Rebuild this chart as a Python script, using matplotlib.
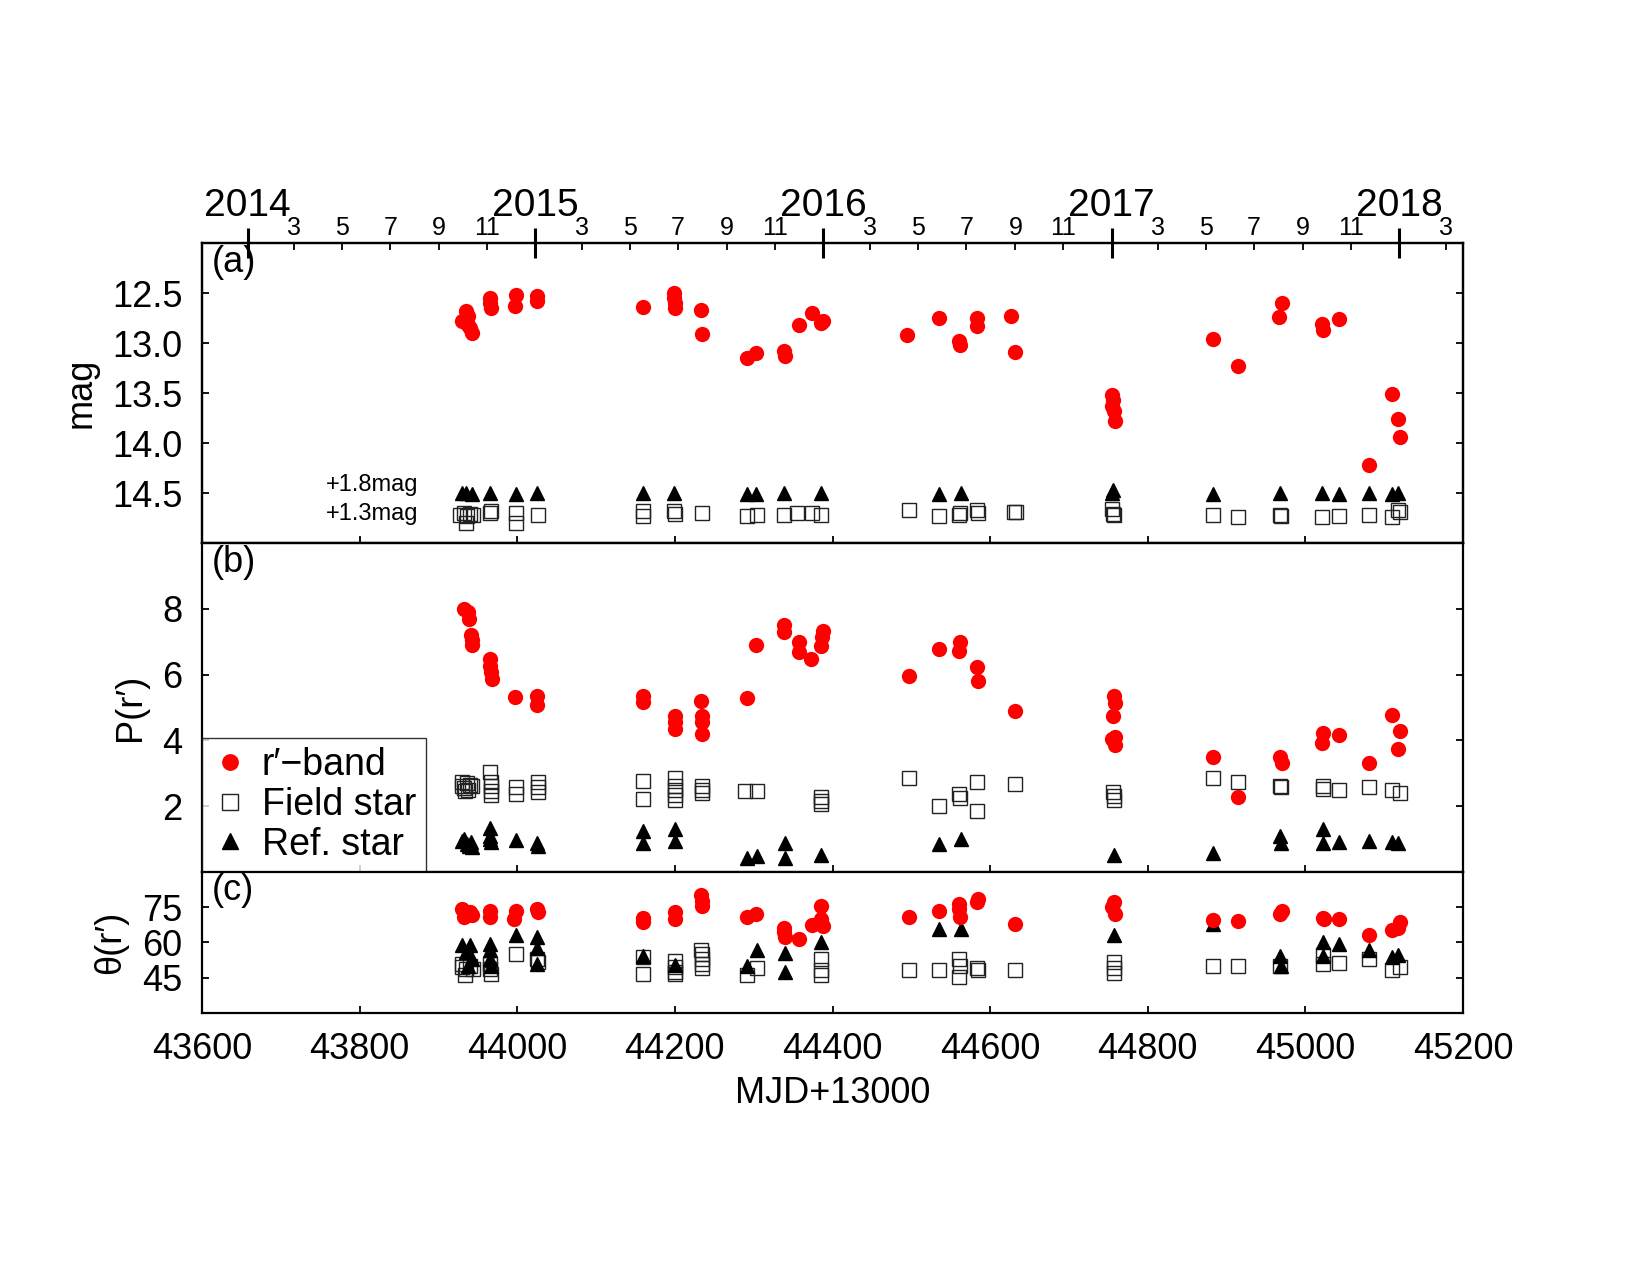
import matplotlib
matplotlib.use('Agg')
import matplotlib.pyplot as plt
from datetime import datetime

plt.rcParams['font.family'] = ['Liberation Sans', 'DejaVu Sans']

# ---- panel (a): magnitudes ----
a_r_t = [43930, 43935, 43937, 43940, 43942, 43938, 43966, 43967, 43966, 43999, 43997, 44025, 44025,
         44160, 44199, 44199, 44200, 44200, 44233, 44234, 44291, 44303, 44338, 44340, 44357, 44374,
         44386, 44388, 44495, 44535, 44561, 44562, 44583, 44583, 44627, 44632, 44755, 44756, 44754,
         44757, 44758, 44883, 44914, 44970, 44967, 45021, 45022, 45043, 45081, 45110, 45117, 45120]
a_r_v = [12.78, 12.68, 12.73, 12.85, 12.90, 12.82, 12.55, 12.65, 12.60, 12.52, 12.63, 12.53, 12.58,
         12.64, 12.50, 12.55, 12.60, 12.65, 12.67, 12.91, 13.15, 13.10, 13.08, 13.13, 12.82, 12.70,
         12.80, 12.78, 12.92, 12.75, 12.98, 13.02, 12.75, 12.83, 12.73, 13.09, 13.52, 13.57, 13.63,
         13.68, 13.78, 12.96, 13.23, 12.60, 12.74, 12.81, 12.87, 12.76, 14.22, 13.51, 13.76, 13.94]

a_ref_t = [43930, 43935, 43942, 43966, 43999, 44025, 44160, 44199, 44291, 44303, 44339, 44386,
           44535, 44563, 44755, 44756, 44883, 44968, 45021, 45043, 45081, 45110, 45118]
a_ref_v = [12.70, 12.70, 12.71, 12.70, 12.71, 12.70, 12.70, 12.70, 12.71, 12.71, 12.70, 12.70,
           12.71, 12.70, 12.70, 12.67, 12.71, 12.70, 12.70, 12.71, 12.70, 12.71, 12.70]
ref_offset = 1.8

a_field_t = [43928, 43932, 43936, 43940, 43944, 43935, 43966, 43967, 43998, 43998, 44026, 44160,
             44160, 44199, 44200, 44234, 44291, 44304, 44338, 44355, 44374, 44386, 44497, 44535,
             44561, 44562, 44583, 44584, 44630, 44633, 44755, 44756, 44757, 44883, 44914, 44968,
             44969, 45021, 45043, 45081, 45110, 45120, 45118]
a_field_v = [13.42, 13.40, 13.43, 13.41, 13.42, 13.50, 13.40, 13.38, 13.40, 13.50, 13.42, 13.38,
             13.43, 13.38, 13.41, 13.40, 13.43, 13.42, 13.42, 13.40, 13.40, 13.42, 13.37, 13.43,
             13.42, 13.40, 13.37, 13.40, 13.39, 13.39, 13.36, 13.41, 13.42, 13.42, 13.44, 13.42,
             13.43, 13.44, 13.43, 13.42, 13.44, 13.39, 13.37]
field_offset = 1.3

# ---- panel (b): polarization degree ----
b_r_t = [43932, 43937, 43939, 43941, 43942, 43942, 43966, 43966, 43967, 43968, 43997, 44025, 44025,
         44160, 44160, 44200, 44200, 44200, 44233, 44234, 44234, 44234, 44291, 44303, 44338, 44339,
         44357, 44358, 44373, 44388, 44387, 44385, 44497, 44535, 44562, 44561, 44583, 44584, 44632,
         44757, 44758, 44756, 44758, 44755, 44759, 44883, 44914, 44968, 44970, 45022, 45021, 45043,
         45081, 45110, 45120, 45117]
b_r_v = [8.0, 7.9, 7.7, 7.2, 7.05, 6.9, 6.48, 6.27, 6.07, 5.87, 5.31, 5.36, 5.09,
         5.36, 5.16, 4.75, 4.55, 4.35, 5.19, 4.75, 4.55, 4.2, 5.28, 6.9, 7.51, 7.31,
         6.98, 6.68, 6.46, 7.34, 7.14, 6.88, 5.97, 6.78, 7.0, 6.73, 6.24, 5.82, 4.88,
         5.36, 5.14, 4.75, 4.09, 4.04, 3.86, 3.48, 2.29, 3.5, 3.31, 4.22, 3.91, 4.16,
         3.31, 4.77, 4.29, 3.74]

b_field_t = [43930, 43930, 43933, 43936, 43938, 43940, 43942, 43934, 43966, 43967, 43967, 43967,
             43967, 43998, 43998, 44026, 44026, 44026, 44160, 44160, 44200, 44200, 44200, 44200,
             44200, 44234, 44234, 44234, 44289, 44304, 44386, 44386, 44386, 44497, 44535, 44561,
             44562, 44583, 44583, 44632, 44756, 44757, 44757, 44883, 44914, 44968, 44969, 45022,
             45022, 45043, 45081, 45110, 45120]
b_field_v = [2.6, 2.75, 2.55, 2.7, 2.5, 2.65, 2.6, 2.45, 3.05, 2.75, 2.6, 2.45,
             2.35, 2.57, 2.36, 2.74, 2.57, 2.42, 2.77, 2.23, 2.87, 2.62, 2.5, 2.35,
             2.2, 2.62, 2.5, 2.4, 2.47, 2.47, 2.27, 2.16, 2.06, 2.85, 2.01, 2.37,
             2.25, 2.74, 1.86, 2.67, 2.42, 2.3, 2.2, 2.85, 2.74, 2.6, 2.57, 2.62,
             2.52, 2.5, 2.57, 2.5, 2.39]

b_ref_t = [43930, 43933, 43936, 43939, 43941, 43943, 43966, 43966, 43967, 43966, 43999, 44025,
           44026, 44160, 44160, 44200, 44200, 44291, 44304, 44340, 44340, 44385, 44535, 44563,
           44757, 44883, 44968, 44969, 45022, 45022, 45043, 45081, 45110, 45118]
b_ref_v = [0.95, 1.0, 0.85, 0.8, 0.9, 0.75, 1.35, 1.1, 0.9, 1.0, 0.97, 0.89,
           0.8, 1.25, 0.87, 1.3, 0.94, 0.43, 0.49, 0.87, 0.43, 0.51, 0.84, 1.0,
           0.51, 0.57, 1.08, 0.87, 1.3, 0.89, 0.91, 0.94, 0.91, 0.89]

# ---- panel (c): polarization angle ----
c_r_t = [43930, 43935, 43940, 43942, 43933, 43966, 43966, 43999, 43996, 44025, 44026, 44160,
         44159, 44200, 44200, 44233, 44234, 44234, 44291, 44303, 44338, 44340, 44338, 44357,
         44374, 44386, 44386, 44388, 44497, 44535, 44561, 44562, 44561, 44583, 44584, 44632,
         44757, 44755, 44759, 44883, 44914, 44968, 44970, 45022, 45023, 45043, 45081, 45110,
         45120, 45117]
c_r_v = [74.3, 72.2, 72.9, 71.5, 70.8, 73.6, 70.8, 73.6, 70.0, 74.3, 72.9, 70.3,
         68.6, 72.9, 70.0, 80.0, 77.8, 75.7, 70.8, 72.2, 66.1, 62.3, 64.4, 61.5,
         67.5, 75.7, 70.0, 67.2, 70.8, 73.3, 76.4, 70.8, 74.3, 77.1, 78.5, 67.9,
         77.1, 75.0, 72.2, 69.6, 69.3, 72.2, 73.2, 70.3, 70.0, 69.8, 63.2, 65.1,
         68.9, 66.1]

c_ref_t = [43930, 43940, 43935, 43942, 43937, 43966, 43966, 43966, 43967, 43999, 44025, 44025,
           44025, 44160, 44200, 44291, 44304, 44340, 44340, 44386, 44535, 44563, 44757, 44883,
           44968, 44969, 45022, 45022, 45043, 45081, 45110, 45118]
c_ref_v = [59, 59, 56, 53, 50, 59.4, 56.6, 53, 50.2, 63, 62.3, 57.7,
           50.9, 54.2, 50.5, 49.9, 56.9, 55.5, 47.4, 60.4, 65.8, 65.8, 63, 67.9,
           54.2, 50.2, 60.4, 54.2, 59.4, 56.6, 53.8, 54.5]

c_field_t = [43930, 43935, 43940, 43934, 43944, 43930, 43966, 43967, 43966, 43998, 44025, 44026,
             44160, 44160, 44200, 44200, 44200, 44200, 44233, 44234, 44234, 44234, 44234, 44291,
             44304, 44386, 44385, 44386, 44497, 44535, 44561, 44562, 44561, 44583, 44584, 44632,
             44757, 44757, 44757, 44883, 44914, 44968, 45022, 45022, 45043, 45081, 45110, 45120]
c_field_v = [50.9, 48.8, 50.2, 46.2, 48.8, 49.5, 48.8, 46.5, 51, 55.2, 53, 51.6,
             54, 46.7, 52.3, 49.5, 47.5, 46.6, 56.6, 55, 53, 51, 49, 46,
             49.2, 53, 48.1, 46, 48.1, 48.1, 53, 50.2, 45.3, 49.1, 48.5, 48.1,
             51.6, 49, 47, 50.2, 50.2, 50.2, 54.5, 51, 51.2, 53, 48.4, 49.5]

# ---- calendar axis ----
years = [2014, 2015, 2016, 2017, 2018]
months = [3, 5, 7, 9, 11]


def mjd13(y, m):
    return (datetime(y, m, 1) - datetime(1858, 11, 17)).days - 13000


fig = plt.figure(figsize=(16.5, 12.75), dpi=100)
left, width = 0.1224, 0.7643
ax_a = fig.add_axes([left, 0.5741, width, 0.2353])
ax_b = fig.add_axes([left, 0.3161, width, 0.2580])
ax_c = fig.add_axes([left, 0.2055, width, 0.1106])

fs = 26
red_kw = dict(ls='none', marker='o', ms=11, color='#ff0000', mec='none', zorder=4)
sq_kw = dict(ls='none', marker='s', ms=10, mfc='none', mec='#222222', mew=1.0, zorder=2)
tri_kw = dict(ls='none', marker='^', ms=10, color='black', mec='black', zorder=3)

ax_a.plot(a_field_t, [v + field_offset for v in a_field_v], **sq_kw)
ax_a.plot(a_ref_t, [v + ref_offset for v in a_ref_v], **tri_kw)
ax_a.plot(a_r_t, a_r_v, **red_kw)

hf, = ax_b.plot(b_field_t, b_field_v, **sq_kw)
hs, = ax_b.plot(b_ref_t, b_ref_v, **tri_kw)
hr, = ax_b.plot(b_r_t, b_r_v, **red_kw)

ax_c.plot(c_field_t, c_field_v, **sq_kw)
ax_c.plot(c_ref_t, c_ref_v, **tri_kw)
ax_c.plot(c_r_t, c_r_v, **red_kw)

for ax in (ax_a, ax_b, ax_c):
    ax.set_xlim(43600, 45200)
    ax.set_xticks(range(43600, 45201, 200))
    ax.tick_params(axis='both', direction='in', length=5, width=1.3, labelsize=fs,
                   right=True, top=False, pad=14)
    for s in ax.spines.values():
        s.set_linewidth(1.6)

ax_a.set_ylim(15.0, 12.0)
ax_a.set_yticks([12.5, 13.0, 13.5, 14.0, 14.5])
ax_a.set_yticklabels(['12.5', '13.0', '13.5', '14.0', '14.5'])
ax_b.set_ylim(0, 10)
ax_b.set_yticks([2, 4, 6, 8])
ax_c.set_ylim(30, 90)
ax_c.set_yticks([45, 60, 75])

ax_a.tick_params(axis='x', labelbottom=False)
ax_b.tick_params(axis='x', labelbottom=False)

ax_a.set_ylabel('mag', fontsize=fs, labelpad=10)
ax_b.set_ylabel('P(r\u2032)', fontsize=fs, labelpad=10)
ax_c.set_ylabel('\u03b8(r\u2032)', fontsize=fs, labelpad=10)
ax_c.set_xlabel('MJD+13000', fontsize=fs, labelpad=6)

for ax, lab in ((ax_a, '(a)'), (ax_b, '(b)'), (ax_c, '(c)')):
    ax.text(0.008, 0.995, lab, transform=ax.transAxes, ha='left', va='top', fontsize=fs)

ax_a.text(43875, 14.42, '+1.8mag', ha='right', va='center', fontsize=17)
ax_a.text(43875, 14.71, '+1.3mag', ha='right', va='center', fontsize=17)

leg = ax_b.legend([hr, hf, hs], ['r\u2032\u2212band', 'Field star', 'Ref. star'],
                  loc='lower left', fontsize=27, frameon=True, fancybox=False,
                  edgecolor='black', borderaxespad=0, borderpad=0.25,
                  labelspacing=0.1, handlelength=1.0, handletextpad=0.35,
                  markerscale=1.1)
leg.get_frame().set_linewidth(1.0)

# calendar ticks on top of panel (a)
top = ax_a.twiny()
top.set_xlim(ax_a.get_xlim())
top.set_xticks([mjd13(y, 1) for y in years])
top.set_xticklabels([str(y) for y in years], fontsize=28)
minor_pos = [mjd13(y, m) for y in years[:-1] for m in months] + [mjd13(2018, 3)]
minor_lab = [str(m) for y in years[:-1] for m in months] + ['3']
top.set_xticks(minor_pos, minor=True)
top.set_xticklabels(minor_lab, minor=True, fontsize=18)
top.tick_params(axis='x', which='major', direction='inout', length=22, width=2.2, pad=3)
top.tick_params(axis='x', which='minor', direction='in', length=5, width=1.3, pad=2)
for s in top.spines.values():
    s.set_linewidth(1.6)

fig.savefig('out.png', dpi=100)
